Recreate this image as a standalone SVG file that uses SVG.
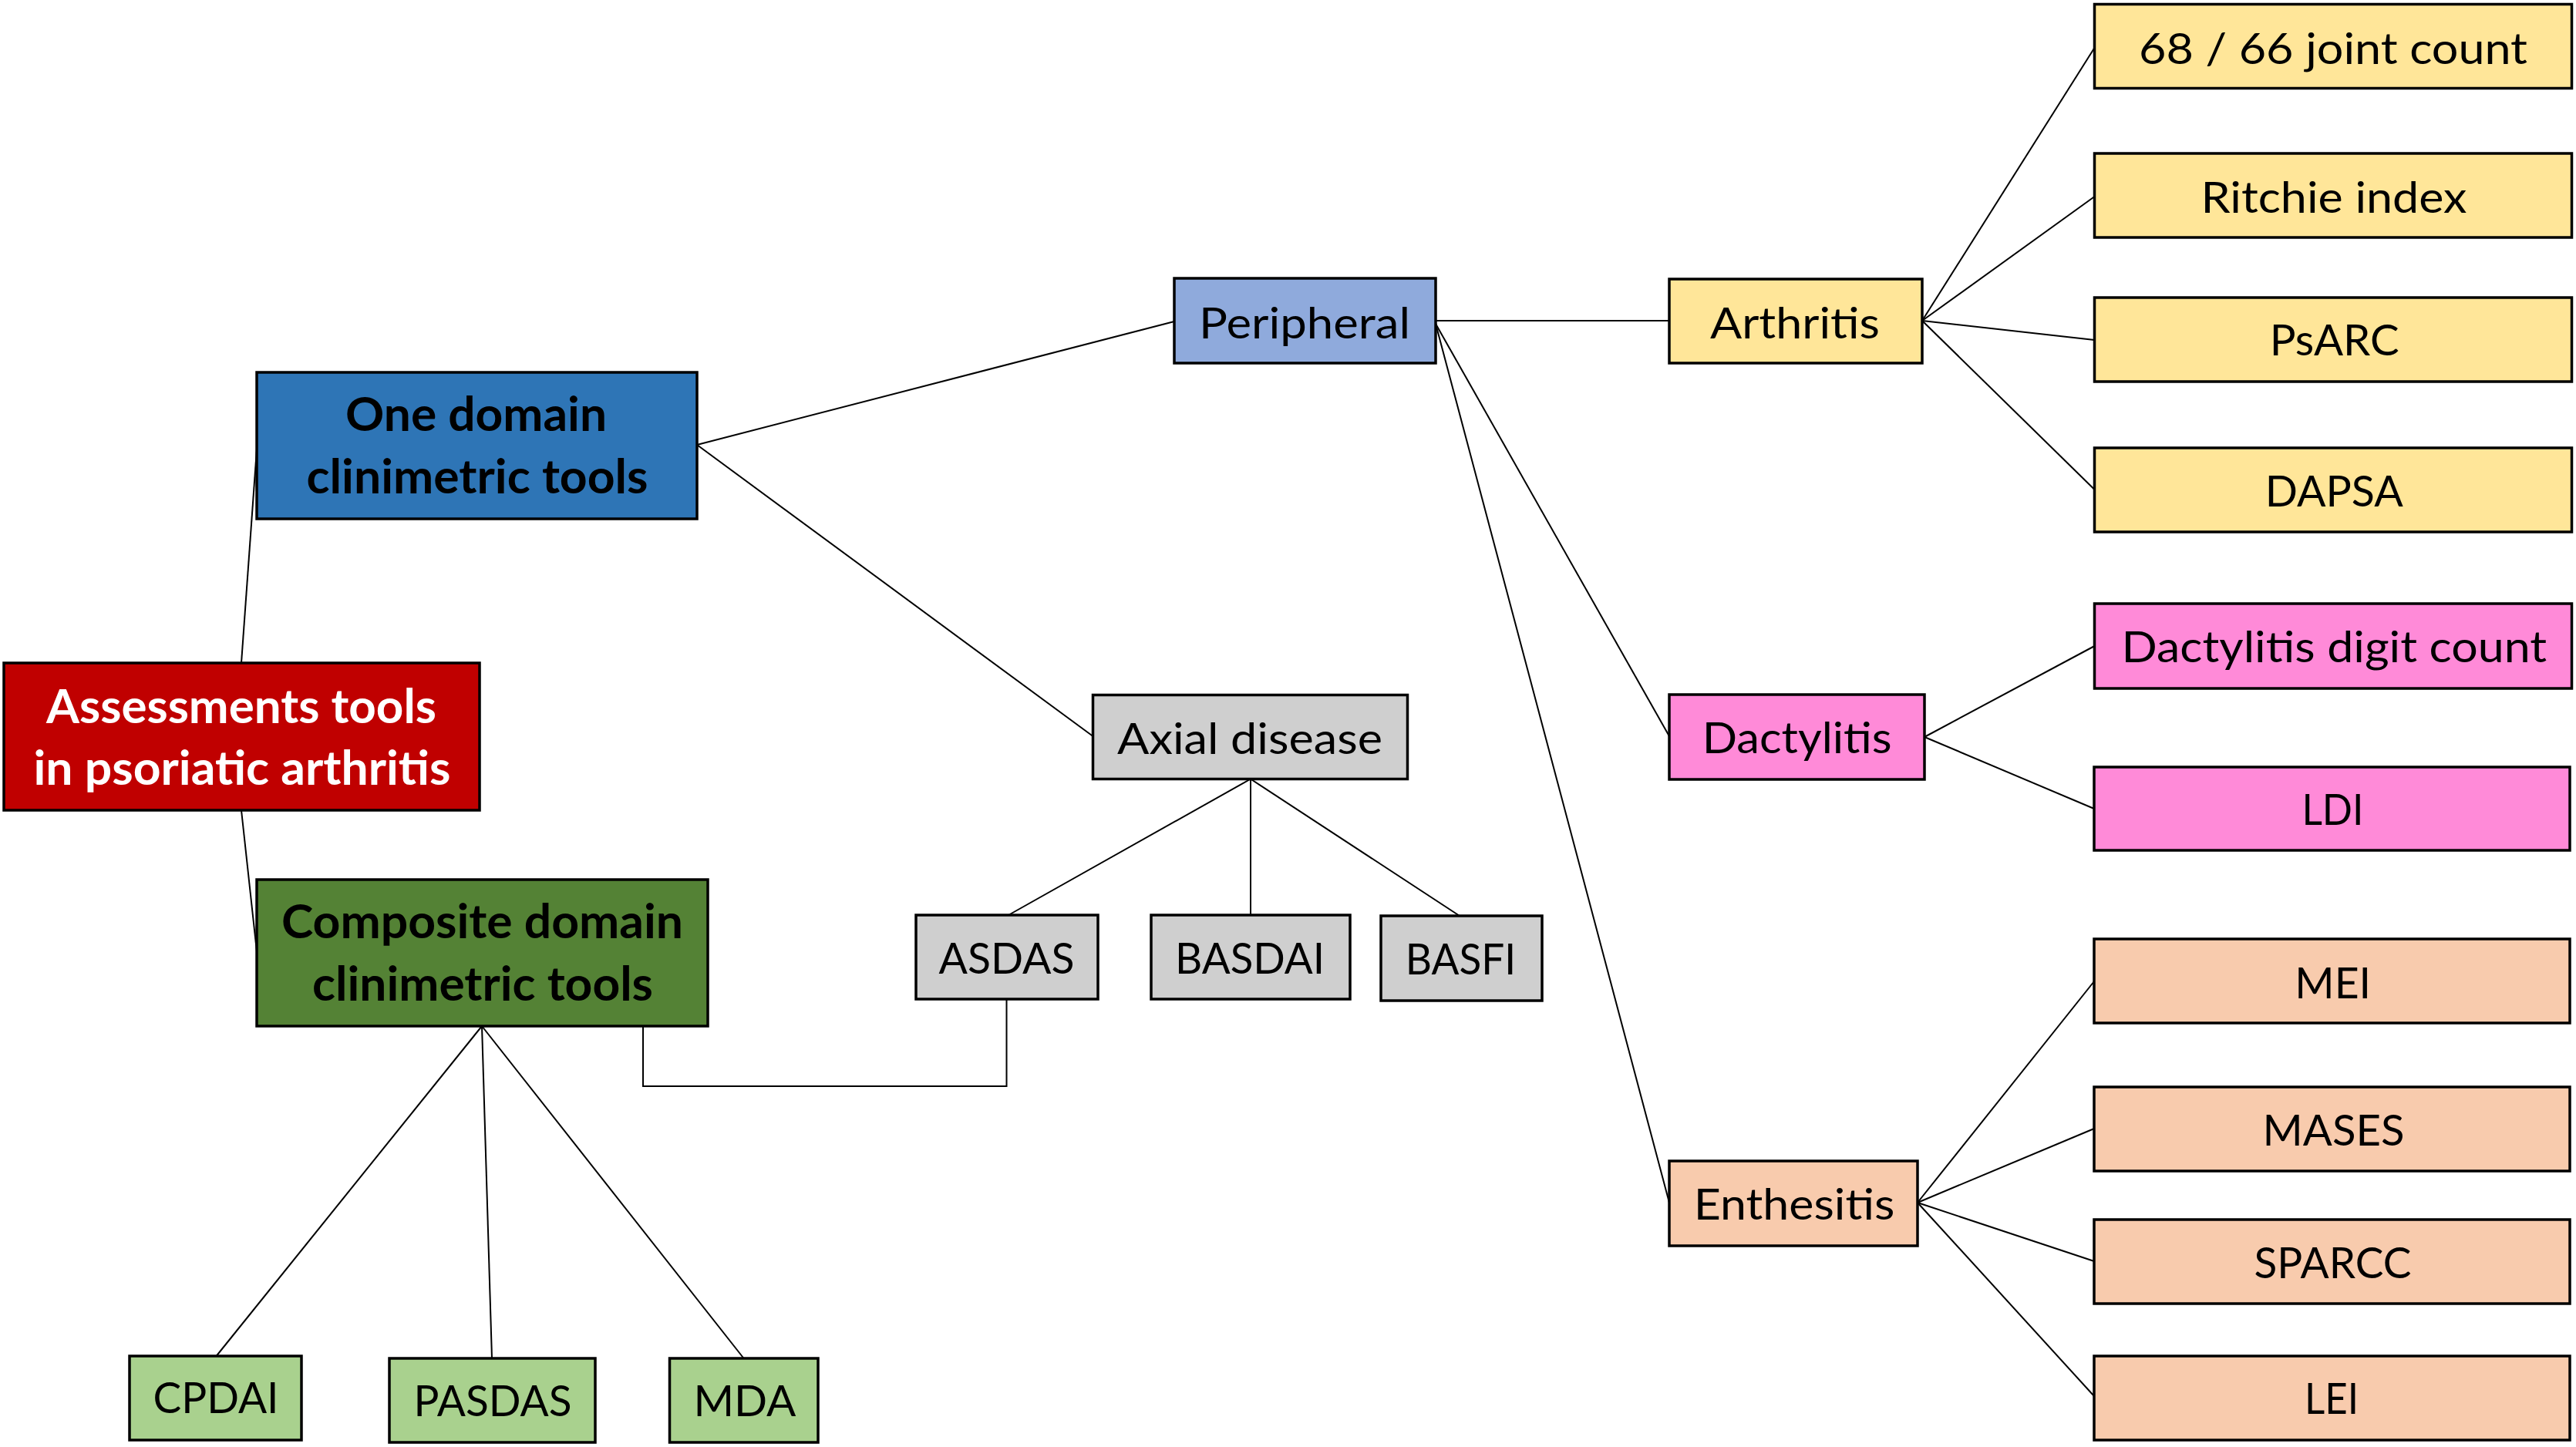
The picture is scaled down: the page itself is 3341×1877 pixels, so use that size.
<svg xmlns="http://www.w3.org/2000/svg" width="3341" height="1877" viewBox="0 0 3341 1877">
<style>
.bx{stroke:#000;stroke-width:3.5}
.cn line,.cn polyline{stroke:#000;stroke-width:2;fill:none}
text{font-family:Lato,"Liberation Sans",sans-serif;font-size:57px;text-anchor:middle;fill:#000}
.b{font-weight:bold;font-size:61px}
.w{fill:#fff}
.red{fill:#C00000}.blue{fill:#2E75B6}.green{fill:#548235}.lblue{fill:#8FAADC}
.gray{fill:#CFCFCF}.lgreen{fill:#A9D18E}.yel{fill:#FFE699}.pink{fill:#FF8AD8}.peach{fill:#F8CBAD}
</style>
<rect width="3341" height="1877" fill="#fff"/>
<g id="connectors" class="cn">
<line x1="313" y1="860" x2="333" y2="583"/>
<line x1="313" y1="1051" x2="333" y2="1234"/>
<line x1="904" y1="577" x2="1523" y2="417"/>
<line x1="904" y1="577" x2="1417.5" y2="955"/>
<line x1="1862" y1="416" x2="2165" y2="416"/>
<line x1="1862" y1="420" x2="2165" y2="955"/>
<line x1="1862" y1="420" x2="2165" y2="1560"/>
<line x1="2493" y1="416" x2="2716.5" y2="62"/>
<line x1="2493" y1="416" x2="2716.5" y2="255"/>
<line x1="2493" y1="416" x2="2716.5" y2="441"/>
<line x1="2493" y1="416" x2="2716.5" y2="635"/>
<line x1="2496" y1="956" x2="2716.5" y2="838"/>
<line x1="2496" y1="956" x2="2716" y2="1049"/>
<line x1="2487" y1="1560" x2="2716" y2="1273"/>
<line x1="2487" y1="1560" x2="2716" y2="1464"/>
<line x1="2487" y1="1560" x2="2716" y2="1636"/>
<line x1="2487" y1="1560" x2="2716" y2="1811"/>
<line x1="1622" y1="1010.5" x2="1308" y2="1187"/>
<line x1="1622" y1="1010.5" x2="1622" y2="1187"/>
<line x1="1622" y1="1010.5" x2="1893" y2="1188"/>
<line x1="625" y1="1331" x2="280.6" y2="1759"/>
<line x1="625" y1="1331" x2="638" y2="1762"/>
<line x1="625" y1="1331" x2="964.6" y2="1762"/>
<polyline points="834,1331 834,1409 1305.5,1409 1305.5,1296"/>
</g>
<g id="root"><rect class="bx red" x="5" y="860" width="617" height="191"/>
<text class="b w" x="313" y="938" textLength="506" lengthAdjust="spacingAndGlyphs">Assessments tools</text>
<text class="b w" x="314" y="1017.5" textLength="541" lengthAdjust="spacingAndGlyphs">in psoriatic arthritis</text></g>
<g id="one-domain"><rect class="bx blue" x="333" y="483" width="571" height="190"/>
<text class="b" x="617.5" y="559" textLength="339" lengthAdjust="spacingAndGlyphs">One domain</text>
<text class="b" x="619" y="640" textLength="443" lengthAdjust="spacingAndGlyphs">clinimetric tools</text></g>
<g id="composite"><rect class="bx green" x="333" y="1141" width="585" height="190"/>
<text class="b" x="625.5" y="1217" textLength="521" lengthAdjust="spacingAndGlyphs">Composite domain</text>
<text class="b" x="626" y="1298" textLength="442" lengthAdjust="spacingAndGlyphs">clinimetric tools</text></g>
<g id="peripheral"><rect class="bx lblue" x="1523" y="361" width="339" height="110"/>
<text x="1692" y="439" textLength="274" lengthAdjust="spacingAndGlyphs">Peripheral</text></g>
<g id="axial"><rect class="bx gray" x="1417.5" y="901.5" width="408" height="109"/>
<text x="1621" y="977.5" textLength="344" lengthAdjust="spacingAndGlyphs">Axial disease</text></g>
<g id="asdas"><rect class="bx gray" x="1188" y="1187" width="236" height="109"/>
<text x="1305.5" y="1263" textLength="176" lengthAdjust="spacingAndGlyphs">ASDAS</text></g>
<g id="basdai"><rect class="bx gray" x="1493" y="1187" width="258" height="109"/>
<text x="1621" y="1263" textLength="194" lengthAdjust="spacingAndGlyphs">BASDAI</text></g>
<g id="basfi"><rect class="bx gray" x="1791" y="1188" width="209" height="110"/>
<text x="1894.4" y="1264" textLength="143.5" lengthAdjust="spacingAndGlyphs">BASFI</text></g>
<g id="cpdai"><rect class="bx lgreen" x="168" y="1759" width="223" height="109"/>
<text x="280" y="1833" textLength="163" lengthAdjust="spacingAndGlyphs">CPDAI</text></g>
<g id="pasdas"><rect class="bx lgreen" x="505" y="1762" width="267" height="109"/>
<text x="639" y="1837" textLength="205" lengthAdjust="spacingAndGlyphs">PASDAS</text></g>
<g id="mda"><rect class="bx lgreen" x="868.5" y="1762" width="192.5" height="109"/>
<text x="966" y="1837" textLength="133" lengthAdjust="spacingAndGlyphs">MDA</text></g>
<g id="arthritis"><rect class="bx yel" x="2165" y="362" width="328" height="109"/>
<text x="2328" y="438.5" textLength="220" lengthAdjust="spacingAndGlyphs">Arthritis</text></g>
<g id="dactylitis"><rect class="bx pink" x="2165" y="901" width="331" height="110"/>
<text x="2330.7" y="977" textLength="246" lengthAdjust="spacingAndGlyphs">Dactylitis</text></g>
<g id="enthesitis"><rect class="bx peach" x="2165" y="1506" width="322" height="110"/>
<text x="2327" y="1582" textLength="260.6" lengthAdjust="spacingAndGlyphs">Enthesitis</text></g>
<g id="joint-count"><rect class="bx yel" x="2716.5" y="5.5" width="619" height="109"/>
<text x="3026" y="82.6" textLength="504" lengthAdjust="spacingAndGlyphs">68 / 66 joint count</text></g>
<g id="ritchie"><rect class="bx yel" x="2716.5" y="199" width="619" height="109"/>
<text x="3027" y="275.5" textLength="345" lengthAdjust="spacingAndGlyphs">Ritchie index</text></g>
<g id="psarc"><rect class="bx yel" x="2716.5" y="386" width="619" height="109"/>
<text x="3027.7" y="461.4" textLength="168" lengthAdjust="spacingAndGlyphs">PsARC</text></g>
<g id="dapsa"><rect class="bx yel" x="2716.5" y="581" width="619" height="109"/>
<text x="3027.3" y="656.6" textLength="179" lengthAdjust="spacingAndGlyphs">DAPSA</text></g>
<g id="digit-count"><rect class="bx pink" x="2716.5" y="783" width="619" height="110"/>
<text x="3027.3" y="859.3" textLength="551.5" lengthAdjust="spacingAndGlyphs">Dactylitis digit count</text></g>
<g id="ldi"><rect class="bx pink" x="2716" y="995" width="617" height="108"/>
<text x="3025.4" y="1070" textLength="80" lengthAdjust="spacingAndGlyphs">LDI</text></g>
<g id="mei"><rect class="bx peach" x="2716" y="1218" width="617" height="109"/>
<text x="3025.7" y="1294.7" textLength="98.7" lengthAdjust="spacingAndGlyphs">MEI</text></g>
<g id="mases"><rect class="bx peach" x="2716" y="1410" width="617" height="109"/>
<text x="3026.5" y="1485.8" textLength="184" lengthAdjust="spacingAndGlyphs">MASES</text></g>
<g id="sparcc"><rect class="bx peach" x="2716" y="1582" width="617" height="109"/>
<text x="3025.5" y="1657.8" textLength="204" lengthAdjust="spacingAndGlyphs">SPARCC</text></g>
<g id="lei"><rect class="bx peach" x="2716" y="1759" width="617" height="109"/>
<text x="3024" y="1834" textLength="70" lengthAdjust="spacingAndGlyphs">LEI</text></g>
</svg>
